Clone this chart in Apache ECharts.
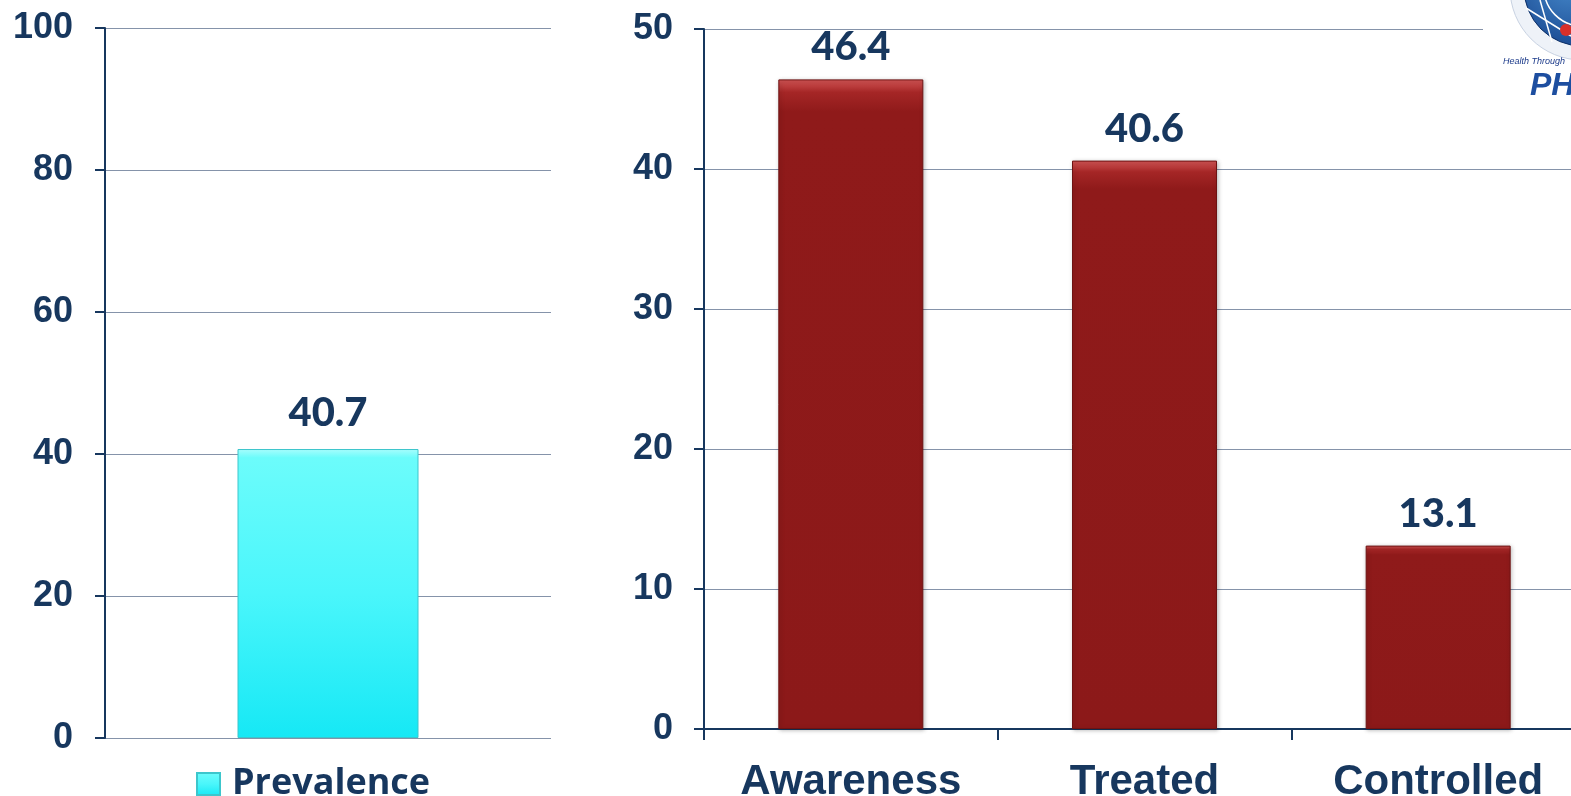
<!DOCTYPE html>
<html>
<head>
<meta charset="utf-8">
<script src="https://cdn.jsdelivr.net/npm/echarts@6/dist/echarts.min.js"></script>
<style>
  html, body { margin: 0; padding: 0; background: #ffffff; }
  #chart { width: 1571px; height: 796px; }
</style>
</head>
<body>
<div id="chart"></div>
<script>
// Hypertension prevalence (left) and awareness / treatment / control (right), %
const prevalenceCategories = ['Prevalence'];
const prevalenceValues = [40.7];
const careCategories = ['Awareness', 'Treated', 'Controlled'];
const careValues = [46.4, 40.6, 13.1];

const NAVY = '#17375e';
const GRID_LINE = '#8593aa';

const chart = echarts.init(document.getElementById('chart'), null, { renderer: 'canvas' });

const yLabel = { color: NAVY, fontFamily: 'Liberation Sans, Arial, sans-serif', fontWeight: 'bold', fontSize: 36 };
const valueLabel = { show: true, position: 'top', color: NAVY, fontFamily: 'Lato, sans-serif', fontWeight: 900, fontSize: 40 };

chart.setOption({
  animation: false,
  backgroundColor: '#ffffff',
  grid: [
    { left: 105, top: 28, width: 446, height: 710, outerBoundsMode: 'none', containLabel: false },
    { left: 704, top: 29, width: 881, height: 700, outerBoundsMode: 'none', containLabel: false }
  ],
  legend: {
    data: ['Prevalence'],
    left: 196, top: 766, padding: 0,
    icon: 'rect', itemWidth: 23, itemHeight: 22, itemGap: 11,
    formatter: '{t|{name}}',
    textStyle: {
      color: NAVY, fontFamily: 'Open Sans, sans-serif', fontWeight: 'bold', fontSize: 36,
      rich: { t: { color: NAVY, fontFamily: 'Open Sans, sans-serif', fontWeight: 'bold', fontSize: 36, padding: [0, 0, 0, 7] } }
    }
  },
  xAxis: [
    {
      type: 'category', gridIndex: 0, data: prevalenceCategories,
      axisLine: { show: false }, axisTick: { show: false }, axisLabel: { show: false }
    },
    {
      type: 'category', gridIndex: 1, data: careCategories,
      axisLine: { show: true, lineStyle: { color: NAVY, width: 2 } },
      axisTick: { show: true, length: 11, lineStyle: { color: NAVY, width: 2 } },
      axisLabel: { color: NAVY, fontFamily: 'Liberation Sans, Arial, sans-serif', fontWeight: 'bold', fontSize: 42, margin: 32 }
    }
  ],
  yAxis: [
    {
      type: 'value', gridIndex: 0, min: 0, max: 100, interval: 20,
      axisLine: { show: true, lineStyle: { color: NAVY, width: 2 } },
      axisTick: { show: true, length: 10, lineStyle: { color: NAVY, width: 2 } },
      axisLabel: Object.assign({ margin: 32 }, yLabel),
      splitLine: { show: true, lineStyle: { color: GRID_LINE, width: 1.2 } }
    },
    {
      type: 'value', gridIndex: 1, min: 0, max: 50, interval: 10,
      axisLine: { show: true, lineStyle: { color: NAVY, width: 2 } },
      axisTick: { show: true, length: 10, lineStyle: { color: NAVY, width: 2 } },
      axisLabel: Object.assign({ margin: 31 }, yLabel),
      splitLine: { show: true, lineStyle: { color: GRID_LINE, width: 1.2 } }
    }
  ],
  series: [
    {
      name: 'Prevalence', type: 'bar', xAxisIndex: 0, yAxisIndex: 0,
      data: prevalenceValues, barWidth: 181,
      itemStyle: {
        color: new echarts.graphic.LinearGradient(0, 0, 0, 1, [
          { offset: 0, color: '#a8fdfd' },
          { offset: 0.03, color: '#6cfcfb' },
          { offset: 0.5, color: '#4af6fb' },
          { offset: 1, color: '#16e8f5' }
        ]),
        borderColor: '#3cc6cc', borderWidth: 1
      },
      label: Object.assign({ distance: 16 }, valueLabel)
    },
    {
      name: 'Care', type: 'bar', xAxisIndex: 1, yAxisIndex: 1,
      data: careValues, barWidth: 145,
      itemStyle: {
        color: new echarts.graphic.LinearGradient(0, 0, 0, 1, [
          { offset: 0, color: '#d25555' },
          { offset: 0.02, color: '#a52626' },
          { offset: 0.05, color: '#8f1a1a' },
          { offset: 1, color: '#8c1919' }
        ]),
        borderColor: '#6e1212', borderWidth: 1,
        shadowColor: 'rgba(0,0,0,0.25)', shadowBlur: 4, shadowOffsetX: 1, shadowOffsetY: 1
      },
      label: Object.assign({ distance: 12 }, valueLabel)
    }
  ],
  graphic: [
    // logo corner
    { type: 'rect', left: 1483, top: 0, shape: { width: 90, height: 110 }, style: { fill: '#ffffff' }, z: 10 },
    { type: 'circle', shape: { cx: 1582, cy: -12, r: 72 }, style: { fill: '#eef2f8', stroke: '#c8d2e2', lineWidth: 1 }, z: 11 },
    {
      type: 'circle', shape: { cx: 1582, cy: -12, r: 58 },
      style: {
        fill: new echarts.graphic.RadialGradient(0.4, 0.4, 0.7, [
          { offset: 0, color: '#4a8fd0' }, { offset: 1, color: '#14418a' }
        ]),
        stroke: '#0d2f66', lineWidth: 1
      }, z: 12
    },
    { type: 'circle', shape: { cx: 1582, cy: -12, r: 38 }, style: { fill: 'none', stroke: '#ffffff', lineWidth: 1.5 }, z: 13 },
    { type: 'line', shape: { x1: 1526, y1: 8, x2: 1571, y2: 36 }, style: { stroke: '#ffffff', lineWidth: 1.5 }, z: 13 },
    { type: 'line', shape: { x1: 1540, y1: 0, x2: 1552, y2: 42 }, style: { stroke: '#ffffff', lineWidth: 1.5 }, z: 13 },
    { type: 'circle', shape: { cx: 1566, cy: 30, r: 6 }, style: { fill: '#d8302a' }, z: 13 },
    {
      type: 'text', left: 1503, top: 57, z: 13,
      style: { text: 'Health Through', fill: '#1b3a8a', font: 'italic 9px Liberation Sans, Arial, sans-serif' }
    },
    {
      type: 'text', left: 1530, top: 70, z: 13,
      style: { text: 'PHRI', fill: '#1d4ea0', font: 'italic bold 32px Liberation Sans, Arial, sans-serif' }
    }
  ]
});
</script>
</body>
</html>
